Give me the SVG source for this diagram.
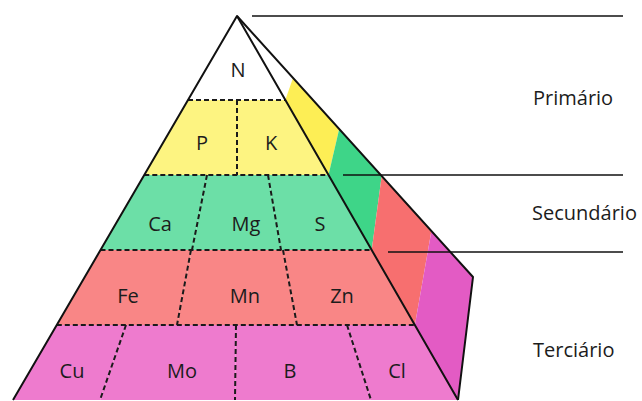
<svg xmlns="http://www.w3.org/2000/svg" width="642" height="401" viewBox="0 0 642 401">
<style>
.lbl{font-family:"Open Sans","Liberation Sans",sans-serif;font-size:20px;fill:#1c1c1c;text-anchor:middle}
.side{font-family:"Open Sans","Liberation Sans",sans-serif;font-size:20px;fill:#1c1c1c}
.dash{stroke:#1a1a1a;stroke-width:2;stroke-dasharray:5 3;fill:none}
.edge{stroke:#111;stroke-width:2;fill:none;stroke-linejoin:round}
.lead{stroke:#111;stroke-width:1.6}
</style>
<rect width="642" height="401" fill="#ffffff"/>
<g id="side-face">
<polygon points="237,16 293,78 285.3,100" fill="#ffffff"/>
<polygon points="293,78 339.2,129 328.5,175 285.3,100" fill="#FDEE55"/>
<polygon points="339.2,129 381.7,176 371.7,250 328.5,175" fill="#3ED588"/>
<polygon points="381.7,176 431.4,231 414.9,325 371.7,250" fill="#F76F6F"/>
<polygon points="431.4,231 473,277 458,400 414.9,325" fill="#E35BC4"/>
</g>
<g id="primario">
<g id="n-N"><polygon points="237,16 285.3,100 188,100" fill="#ffffff"/><text class="lbl" x="238" y="77">N</text></g>
<g id="n-P"><polygon points="188,100 237,100 237,175 144.3,175" fill="#FDF481"/><text class="lbl" x="202" y="150">P</text></g>
<g id="n-K"><polygon points="237,100 285.3,100 328.5,175 237,175" fill="#FDF481"/><text class="lbl" x="271" y="150">K</text></g>
</g>
<g id="secundario">
<g id="n-Ca"><polygon points="144.3,175 207,175 192,250 100.5,250" fill="#6CDFA7"/><text class="lbl" x="160" y="231">Ca</text></g>
<g id="n-Mg"><polygon points="207,175 268,175 281,250 192,250" fill="#6CDFA7"/><text class="lbl" x="246" y="231">Mg</text></g>
<g id="n-S"><polygon points="268,175 328.5,175 371.7,250 281,250" fill="#6CDFA7"/><text class="lbl" x="320" y="231">S</text></g>
</g>
<g id="terciario">
<g id="n-Fe"><polygon points="100.5,250 192,250 177,325 56.8,325" fill="#F98686"/><text class="lbl" x="128" y="303">Fe</text></g>
<g id="n-Mn"><polygon points="192,250 283,250 297,325 177,325" fill="#F98686"/><text class="lbl" x="245" y="303">Mn</text></g>
<g id="n-Zn"><polygon points="283,250 371.7,250 414.9,325 297,325" fill="#F98686"/><text class="lbl" x="342" y="303">Zn</text></g>
<g id="n-Cu"><polygon points="56.8,325 126,325 100,400 13,400" fill="#EE7BCE"/><text class="lbl" x="72" y="378">Cu</text></g>
<g id="n-Mo"><polygon points="126,325 236,325 235,400 100,400" fill="#EE7BCE"/><text class="lbl" x="182" y="378">Mo</text></g>
<g id="n-B"><polygon points="236,325 347,325 371,400 235,400" fill="#EE7BCE"/><text class="lbl" x="290" y="378">B</text></g>
<g id="n-Cl"><polygon points="347,325 414.9,325 458,400 371,400" fill="#EE7BCE"/><text class="lbl" x="397" y="378">Cl</text></g>
</g>
<g id="dashes">
<line class="dash" x1="188" y1="100" x2="285.3" y2="100"/>
<line class="dash" x1="144.3" y1="175" x2="328.5" y2="175"/>
<line class="dash" x1="100.5" y1="250" x2="371.7" y2="250"/>
<line class="dash" x1="56.8" y1="325" x2="414.9" y2="325"/>
<line class="dash" x1="237" y1="100" x2="237" y2="175"/>
<line class="dash" x1="207" y1="175" x2="192" y2="250"/>
<line class="dash" x1="268" y1="175" x2="281" y2="250"/>
<line class="dash" x1="191" y1="250" x2="177" y2="325"/>
<line class="dash" x1="283" y1="250" x2="297" y2="325"/>
<line class="dash" x1="126" y1="325" x2="100" y2="400"/>
<line class="dash" x1="236" y1="325" x2="235" y2="400"/>
<line class="dash" x1="347" y1="325" x2="371" y2="400"/>
</g>
<g id="edges">
<polyline class="edge" points="13,400 237,16 458,400"/>
<polyline class="edge" points="237,16 473,277 458,400"/>
</g>
<g id="connectors">
<line class="lead" x1="252" y1="16" x2="623" y2="16"/>
<line class="lead" x1="343" y1="175" x2="623" y2="175"/>
<line class="lead" x1="388" y1="252" x2="623" y2="252"/>
</g>
<g id="levels">
<text class="side" x="533" y="105">Primário</text>
<text class="side" x="532" y="220">Secundário</text>
<text class="side" x="533" y="357">Terciário</text>
</g>
</svg>
